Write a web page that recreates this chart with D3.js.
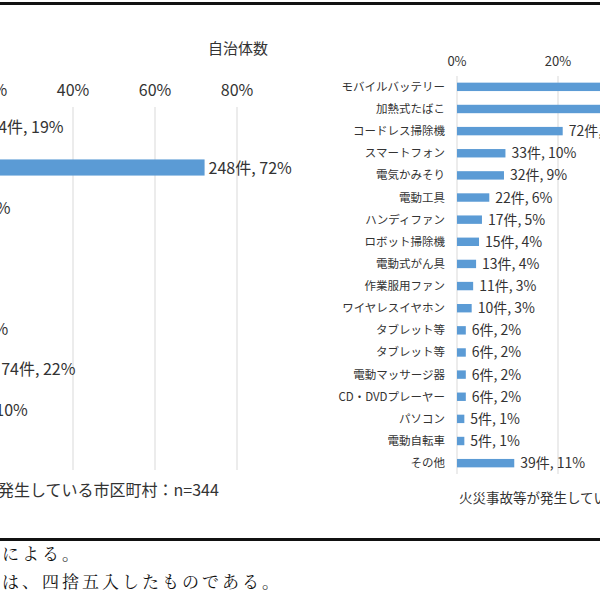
<!DOCTYPE html>
<html><head><meta charset="utf-8">
<script src="https://cdn.jsdelivr.net/npm/d3@7"></script>
<style>body{margin:0;background:#fff}svg{display:block;font-family:"Noto Sans CJK JP",sans-serif}</style>
</head><body><svg id="c" width="600" height="600"></svg>
<script>
// left panel (mostly cut off on the left side)
var leftCats = ["項目1","項目2","項目3","項目4","項目5","項目6","項目7","項目8","項目9"];
var leftCounts = [64, 248, 27, 3, 2, 25, 74, 34, 1];
var leftPct = [19, 72, 8, 1, 1, 7, 22, 10, 0];
var leftTicks = [0, 20, 40, 60, 80];

// right panel
var rightCats = ["モバイルバッテリー","加熱式たばこ","コードレス掃除機","スマートフォン","電気かみそり","電動工具","ハンディファン","ロボット掃除機","電動式がん具","作業服用ファン","ワイヤレスイヤホン","タブレット等","タブレット等","電動マッサージ器","CD・DVDプレーヤー","パソコン","電動自転車","その他"];
var rightCounts = [120, 100, 72, 33, 32, 22, 17, 15, 13, 11, 10, 6, 6, 6, 6, 5, 5, 39];
var rightPct = [35, 29, 21, 10, 9, 6, 5, 4, 4, 3, 3, 2, 2, 2, 2, 1, 1, 11];
var rightTicks = [0, 20, 40];

var svg = d3.select("#c");
var blue = "#5b9bd5";

// ---- left
var xl = d3.scaleLinear().domain([0, 80]).range([-91, 237]);
var yl = d3.scaleBand().domain(leftCats).range([107, 470]).paddingInner(0.6).paddingOuter(0.3);
svg.append("g").selectAll("line").data(leftTicks.slice(1)).join("line")
  .attr("x1", xl).attr("x2", xl).attr("y1", 107).attr("y2", 470)
  .attr("stroke", "#d9d9d9");
svg.append("g").selectAll("text").data(leftTicks).join("text")
  .attr("x", xl).attr("y", 96).attr("text-anchor", "middle")
  .attr("font-size", 16).attr("fill", "#333").text(function (d) { return d + "%"; });
svg.append("g").selectAll("rect").data(leftCats).join("rect")
  .attr("x", xl(0)).attr("y", function (d) { return yl(d); })
  .attr("height", yl.bandwidth())
  .attr("width", function (d, i) { return xl(leftCounts[i] / 344 * 100) - xl(0); })
  .attr("fill", blue);
svg.append("g").selectAll("text").data(leftCats).join("text")
  .attr("x", function (d, i) { return xl(leftCounts[i] / 344 * 100) + 4; })
  .attr("y", function (d) { return yl(d) + yl.bandwidth() / 2 + 6; })
  .attr("font-size", 16).attr("fill", "#333")
  .text(function (d, i) { return leftCounts[i] + "件, " + leftPct[i] + "%"; });
svg.append("text").attr("x", 238).attr("y", 54).attr("text-anchor", "middle")
  .attr("font-size", 15).attr("fill", "#333").text("自治体数");
svg.append("text").attr("x", -98).attr("y", 496)
  .attr("font-size", 16).attr("fill", "#333").text("火災事故等が発生している市区町村：n=344");

// ---- right
var xr = d3.scaleLinear().domain([0, 20]).range([457, 558]);
var yr = d3.scaleBand().domain(d3.range(rightCats.length)).range([76, 474]).paddingInner(0.62).paddingOuter(0.3);
svg.append("g").selectAll("line").data(rightTicks).join("line")
  .attr("x1", xr).attr("x2", xr).attr("y1", 76).attr("y2", 474)
  .attr("stroke", "#d9d9d9");
svg.append("g").selectAll("text").data(rightTicks).join("text")
  .attr("x", xr).attr("y", 66).attr("text-anchor", "middle")
  .attr("font-size", 13).attr("fill", "#333").text(function (d) { return d + "%"; });
svg.append("g").selectAll("rect").data(rightCats).join("rect")
  .attr("x", xr(0)).attr("y", function (d, i) { return yr(i); })
  .attr("height", yr.bandwidth())
  .attr("width", function (d, i) { return xr(rightCounts[i] / 344 * 100) - xr(0); })
  .attr("fill", blue);
svg.append("g").selectAll("text").data(rightCats).join("text")
  .attr("x", 445).attr("text-anchor", "end")
  .attr("y", function (d, i) { return yr(i) + yr.bandwidth() / 2 + 4; })
  .attr("font-size", 11.5).attr("fill", "#333").text(function (d) { return d; });
svg.append("g").selectAll("text").data(rightCats).join("text")
  .attr("x", function (d, i) { return xr(rightCounts[i] / 344 * 100) + 6; })
  .attr("y", function (d, i) { return yr(i) + yr.bandwidth() / 2 + 5; })
  .attr("font-size", 14).attr("fill", "#333")
  .text(function (d, i) { return rightCounts[i] + "件, " + rightPct[i] + "%"; });
svg.append("text").attr("x", 459).attr("y", 503)
  .attr("font-size", 13.5).attr("fill", "#333").text("火災事故等が発生している市区町村：n=344");

// frame lines
svg.append("rect").attr("x", 0).attr("y", 2).attr("width", 600).attr("height", 3).attr("fill", "#111");
svg.append("rect").attr("x", 0).attr("y", 538).attr("width", 600).attr("height", 3).attr("fill", "#111");
svg.append("text").attr("x", 2).attr("y", 560).attr("font-size", 17)
  .attr("font-family", "'Noto Serif CJK JP',serif").attr("letter-spacing", 3).attr("fill", "#111").text("による。");
svg.append("text").attr("x", 2).attr("y", 588).attr("font-size", 17)
  .attr("font-family", "'Noto Serif CJK JP',serif").attr("letter-spacing", 3).attr("fill", "#111").text("は、四捨五入したものである。");
</script></body></html>
